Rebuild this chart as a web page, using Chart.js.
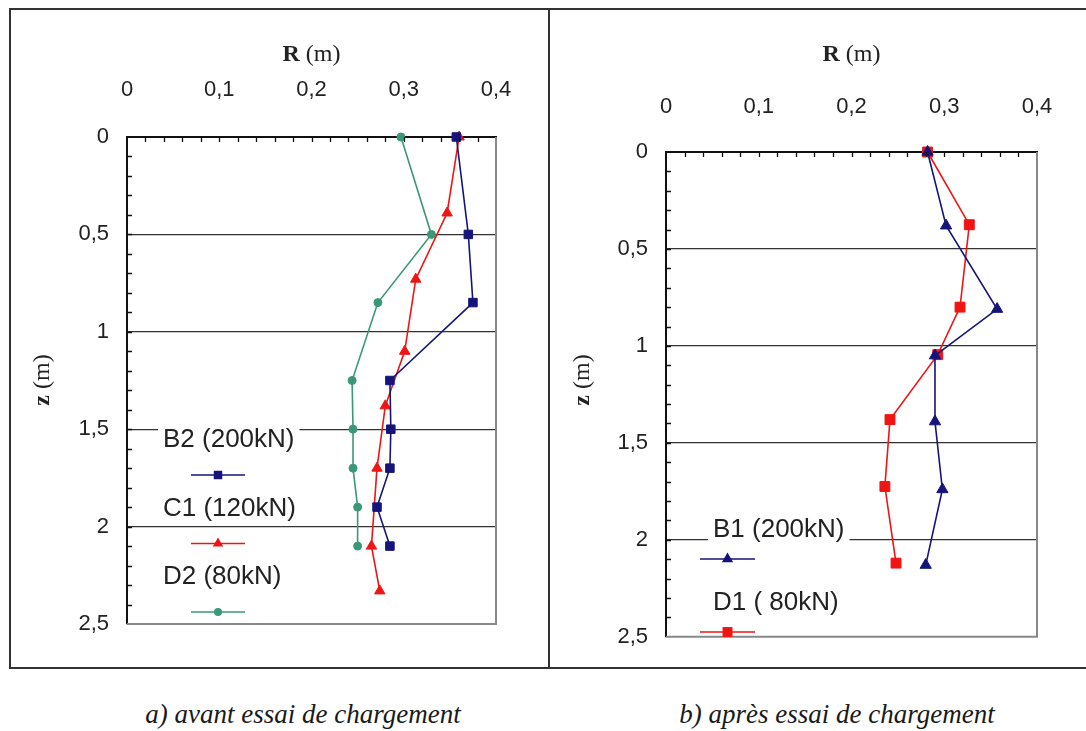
<!DOCTYPE html>
<html>
<head>
<meta charset="utf-8">
<script src="https://cdn.jsdelivr.net/npm/chart.js@4/dist/chart.umd.min.js"></script>
<style>
  body { margin: 0; background: #fff; }
  .frame { position: absolute; left: 9px; top: 8px; width: 1090px; height: 661px; border: 2px solid #333; box-sizing: border-box; }
  .divider { position: absolute; left: 548px; top: 8px; width: 2px; height: 661px; background: #333; }
  canvas { position: absolute; }
  #left { left: 9px; top: 8px; }
  #right { left: 549px; top: 8px; }
  .caption { position: absolute; top: 699px; width: 500px; text-align: center;
             font: italic 27px "Liberation Serif", serif; color: #1a1a1a; }
</style>
</head>
<body>
<div class="frame"></div>
<div class="divider"></div>
<canvas id="left" width="540" height="660"></canvas>
<canvas id="right" width="537" height="660"></canvas>
<div class="caption" style="left:53px">a) avant essai de chargement</div>
<div class="caption" style="left:587px">b) après essai de chargement</div>

<script>
// depth z (m) and radius R (m) for each pile
// a) before load test
var zB2 = [0, 0.5, 0.85, 1.25, 1.5, 1.7, 1.9, 2.1];
var rB2 = [0.357, 0.370, 0.375, 0.285, 0.286, 0.285, 0.271, 0.285];
var zC1 = [0, 0.39, 0.73, 1.1, 1.38, 1.7, 2.1, 2.33];
var rC1 = [0.360, 0.347, 0.313, 0.301, 0.280, 0.271, 0.265, 0.274];
var zD2 = [0, 0.5, 0.85, 1.25, 1.5, 1.7, 1.9, 2.1];
var rD2 = [0.297, 0.330, 0.272, 0.244, 0.245, 0.245, 0.250, 0.250];
// b) after load test
var zB1 = [0, 0.38, 0.81, 1.05, 1.39, 1.74, 2.13];
var rB1 = [0.282, 0.302, 0.357, 0.290, 0.290, 0.298, 0.280];
var zD1 = [0, 0.375, 0.80, 1.045, 1.38, 1.725, 2.12];
var rD1 = [0.282, 0.327, 0.317, 0.293, 0.2415, 0.236, 0.248];

var rTicks = [0, 0.1, 0.2, 0.3, 0.4];
var zTicks = [0, 0.5, 1, 1.5, 2, 2.5];

var SANS = '"Liberation Sans", Arial, sans-serif';
var SERIF = '"Liberation Serif", "Times New Roman", serif';

function pts(z, r) {
	return z.map(function(v, i) { return { x: r[i], y: v }; });
}

function comma(v) {
	return String(Math.round(v * 10) / 10).replace('.', ',');
}

function series(label, z, r, color, style, radius) {
	return {
		label: label,
		data: pts(z, r),
		showLine: true,
		borderColor: color,
		backgroundColor: color,
		borderWidth: 1.6,
		pointStyle: style,
		pointRadius: radius,
		pointHoverRadius: radius,
		pointBorderWidth: 1,
		clip: false
	};
}

function marker(ctx, style, x, y, r, color) {
	ctx.fillStyle = color;
	ctx.beginPath();
	if (style === 'rect') {
		var s = r * Math.SQRT1_2;
		ctx.rect(x - s, y - s, 2 * s, 2 * s);
	} else if (style === 'triangle') {
		ctx.moveTo(x, y - r);
		ctx.lineTo(x + r * 0.866, y + r * 0.5);
		ctx.lineTo(x - r * 0.866, y + r * 0.5);
		ctx.closePath();
	} else {
		ctx.arc(x, y, r, 0, Math.PI * 2);
	}
	ctx.fill();
}

// small inward ticks on the top and left axes, grey right/bottom frame
var frameTicks = {
	id: 'frameTicks',
	afterDraw: function(chart, args, o) {
		var ctx = chart.ctx, a = chart.chartArea;
		var xs = chart.scales.x, ys = chart.scales.y;
		ctx.save();
		ctx.strokeStyle = '#888';
		ctx.lineWidth = 2;
		ctx.beginPath();
		ctx.moveTo(a.right, a.top);
		ctx.lineTo(a.right, a.bottom);
		ctx.lineTo(a.left, a.bottom);
		ctx.stroke();

		ctx.strokeStyle = '#111';
		ctx.lineWidth = 1.3;
		ctx.beginPath();
		var n = Math.round((xs.max - xs.min) / o.xStep);
		for (var i = 1; i < n; i++) {
			var px = Math.round(xs.getPixelForValue(xs.min + i * o.xStep)) + 0.5;
			ctx.moveTo(px, a.top);
			ctx.lineTo(px, a.top + o.len);
		}
		n = Math.round((ys.max - ys.min) / o.yStep);
		for (i = 1; i < n; i++) {
			var py = Math.round(ys.getPixelForValue(ys.min + i * o.yStep)) + 0.5;
			ctx.moveTo(a.left, py);
			ctx.lineTo(a.left + o.len, py);
		}
		ctx.stroke();
		ctx.restore();
	}
};

// axis titles: bold letter followed by the unit in plain type
var axisTitles = {
	id: 'axisTitles',
	afterDraw: function(chart, args, o) {
		var ctx = chart.ctx, a = chart.chartArea;
		ctx.save();
		ctx.fillStyle = '#222';
		ctx.textBaseline = 'middle';
		ctx.textAlign = 'left';

		function piece(bold, rest, cx, cy) {
			ctx.font = 'bold 24px ' + SERIF;
			var w1 = ctx.measureText(bold).width;
			ctx.font = '24px ' + SERIF;
			var w2 = ctx.measureText(rest).width;
			var x0 = cx - (w1 + w2) / 2;
			ctx.font = 'bold 24px ' + SERIF;
			ctx.fillText(bold, x0, cy);
			ctx.font = '24px ' + SERIF;
			ctx.fillText(rest, x0 + w1, cy);
		}

		piece('R', ' (m)', (a.left + a.right) / 2, o.xTitleY);

		ctx.translate(o.yTitleX, o.yTitleY);
		ctx.rotate(-Math.PI / 2);
		piece('z', ' (m)', 0, 0);
		ctx.restore();
	}
};

// legend drawn inside the plot, text on a white patch with a sample line below
var innerLegend = {
	id: 'innerLegend',
	afterDraw: function(chart, args, o) {
		var ctx = chart.ctx, a = chart.chartArea;
		ctx.save();
		ctx.font = '26px ' + SANS;
		ctx.textBaseline = 'middle';
		ctx.textAlign = 'left';
		chart.data.datasets.forEach(function(ds, i) {
			var tx = a.left + o.textX;
			var ty = a.top + o.textY + i * o.step;
			var w = ctx.measureText(ds.label).width;
			ctx.fillStyle = '#fff';
			ctx.fillRect(tx - 5, ty - 16, w + 10, 32);
			ctx.fillStyle = '#222';
			ctx.fillText(ds.label, tx, ty);

			var ly = ty + o.lineDy;
			var x0 = a.left + o.lineX0, x1 = a.left + o.lineX1;
			ctx.strokeStyle = ds.borderColor;
			ctx.lineWidth = 1.6;
			ctx.beginPath();
			ctx.moveTo(x0, ly);
			ctx.lineTo(x1, ly);
			ctx.stroke();
			marker(ctx, ds.pointStyle, (x0 + x1) / 2, ly, ds.pointRadius, ds.borderColor);
		});
		ctx.restore();
	}
};

function makeChart(id, datasets, lay) {
	return new Chart(document.getElementById(id), {
		type: 'scatter',
		data: { datasets: datasets },
		options: {
			responsive: false,
			animation: false,
			events: [],
			layout: { padding: { left: 0, top: 0, right: lay.right, bottom: lay.bottom } },
			plugins: {
				legend: { display: false },
				tooltip: { enabled: false },
				frameTicks: { xStep: 0.02, yStep: 0.1, len: 5 },
				axisTitles: { xTitleY: 47, yTitleX: 34, yTitleY: 372 },
				innerLegend: lay.legend
			},
			scales: {
				x: {
					type: 'linear',
					position: 'top',
					min: rTicks[0],
					max: rTicks[rTicks.length - 1],
					afterBuildTicks: function(s) { s.ticks = rTicks.map(function(v) { return { value: v }; }); },
					afterFit: function(s) { s.height = lay.top; },
					ticks: {
						padding: lay.xPad,
						maxRotation: 0,
						autoSkip: false,
						color: '#222',
						font: { family: SANS, size: 22 },
						callback: function(v) { return comma(v); }
					},
					grid: { display: false },
					border: { display: true, color: '#111', width: 2 }
				},
				y: {
					type: 'linear',
					reverse: true,
					min: zTicks[0],
					max: zTicks[zTicks.length - 1],
					afterBuildTicks: function(s) { s.ticks = zTicks.map(function(v) { return { value: v }; }); },
					afterFit: function(s) { s.width = lay.left; },
					ticks: {
						padding: 18,
						color: '#222',
						font: { family: SANS, size: 22 },
						callback: function(v) { return comma(v); }
					},
					grid: {
						drawTicks: false,
						lineWidth: 1.3,
						color: function(c) {
							var v = c.tick ? c.tick.value : 0;
							return (v === 0 || v === 2.5) ? 'rgba(0,0,0,0)' : '#333';
						}
					},
					border: { display: true, color: '#111', width: 2 }
				}
			}
		},
		plugins: [frameTicks, axisTitles, innerLegend]
	});
}

var NAVY = '#14147a';
var RED = '#f01414';
var GREEN = '#3a9877';

makeChart('left', [
	series('B2 (200kN)', zB2, rB2, NAVY, 'rect', 6),
	series('C1 (120kN)', zC1, rC1, RED, 'triangle', 6),
	series('D2 (80kN)', zD2, rD2, GREEN, 'circle', 4)
], {
	left: 118, top: 129, right: 53, bottom: 44, xPad: 26,
	legend: { textX: 36, textY: 303, step: 68.5, lineDy: 35, lineX0: 64, lineX1: 118 }
});

makeChart('right', [
	series('B1 (200kN)', zB1, rB1, NAVY, 'triangle', 6.5),
	series('D1 ( 80kN)', zD1, rD1, RED, 'rect', 7)
], {
	left: 117, top: 144, right: 49, bottom: 28, xPad: 24,
	legend: { textX: 47, textY: 378, step: 73, lineDy: 29, lineX0: 34, lineX1: 89 }
});
</script>
</body>
</html>
